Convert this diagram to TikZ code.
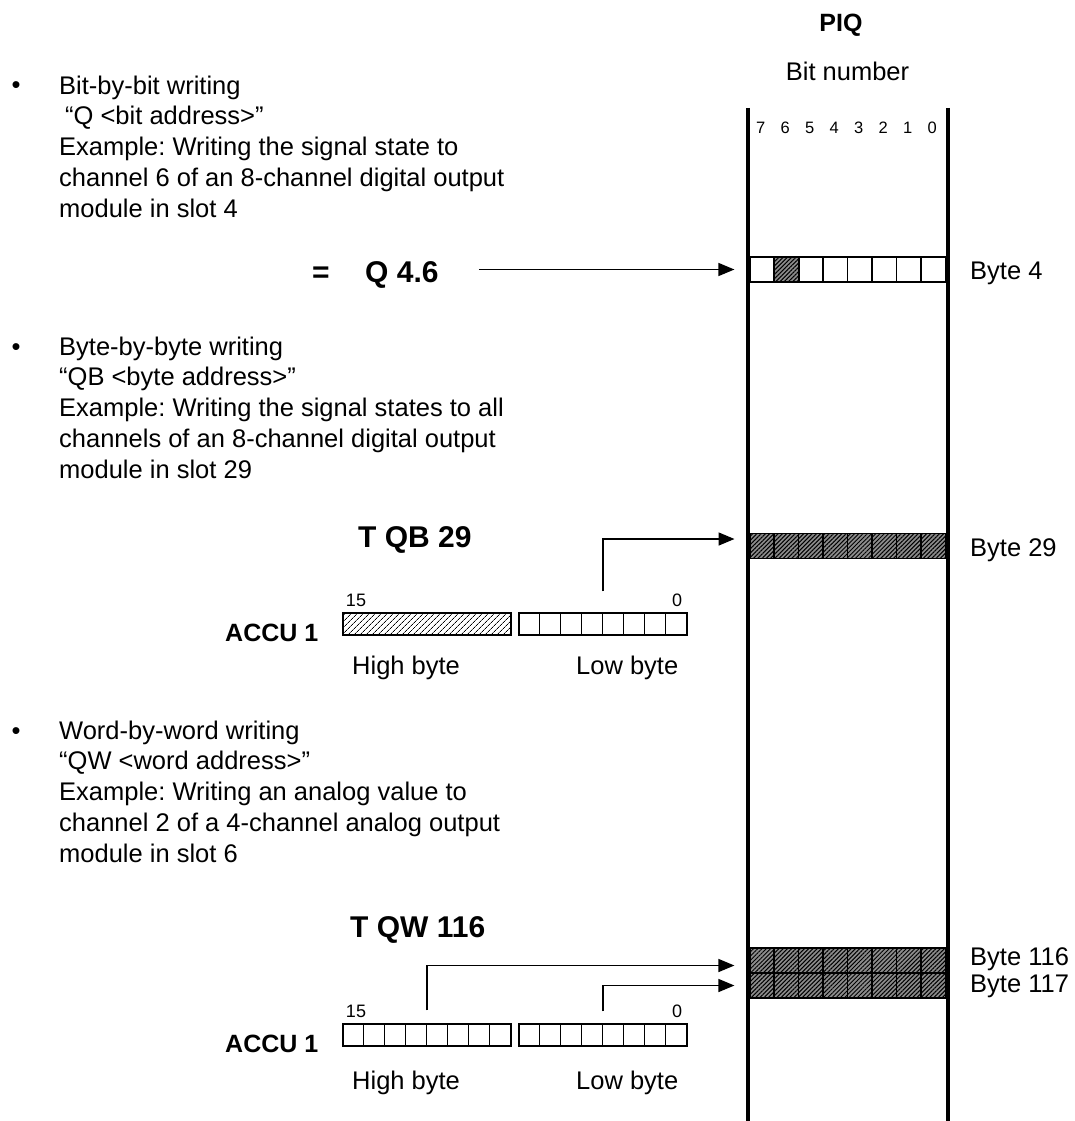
\documentclass[tikz,border=0pt]{standalone}
\usepackage{fontspec}
\setmainfont{Liberation Sans}
\usetikzlibrary{arrows.meta,positioning,patterns.meta}
\frenchspacing

\begin{document}
\begin{tikzpicture}[
		x=1pt, y=-1pt,
		body/.style={
			anchor=base west,
			align=left,
			inner sep=0pt,
			font=\fontsize{25.5}{30.75}\selectfont
		},
		plain/.style={
			anchor=base,
			inner sep=0pt,
			font=\fontsize{25.5}{30.75}\selectfont
		},
		cmd/.style={
			anchor=base west,
			inner sep=0pt,
			font=\fontsize{30}{36}\selectfont\bfseries
		},
		accu/.style={
			anchor=base west,
			inner sep=0pt,
			font=\fontsize{25}{30}\selectfont\bfseries
		},
		bitno/.style={
			anchor=base,
			inner sep=0pt,
			font=\fontsize{16.5}{20}\selectfont
		},
		endbit/.style={
			anchor=base,
			inner sep=0pt,
			font=\fontsize{18}{22}\selectfont
		},
		byterow/.style={
			draw,
			line width=1.2pt,
			minimum width=196pt,
			minimum height=25pt,
			inner sep=0pt
		},
		accubyte/.style={
			draw,
			line width=1.2pt,
			minimum width=168pt,
			minimum height=22pt,
			inner sep=0pt
		},
		dense/.style={
			preaction={fill=black!45},
			pattern={Lines[angle=45,distance=3pt,line width=1pt]}
		},
		sparse/.style={
			pattern={Lines[angle=45,distance=4pt,line width=.8pt]}
		},
		divider/.style={line width=1.2pt},
		wall/.style={line width=4pt},
		arrow/.style={
			-{Triangle[length=16pt,width=13pt]},
			line width=1.5pt,
			shorten >=15pt
		}
		]
		
		\useasboundingbox (0,0) rectangle (1074,1121);
		
		% process image of outputs
		\node[accu, anchor=base] (piq) at (841,32) {PIQ};
		\node[plain] (bitnum) at (847.5,81) {Bit number};
		\draw[wall] (748,108) -- (748,1121);
		\draw[wall] (948,108) -- (948,1121);
		\foreach \b [count=\i from 0] in {7,...,0}
		\node[bitno] (bit\b) at ({760.75+24.5*\i},133) {\b};
		
		\node[byterow] (byte4) at (848,269.5) {};
		\node[byterow, dense] (byte29) at (848,546) {};
		\node[byterow, dense] (byte116) at (848,960.5) {};
		\node[byterow, dense] (byte117) at (848,985.5) {};
		\node[draw, dense, line width=1.2pt, minimum width=24.5pt,
		minimum height=25pt, inner sep=0pt] (bit46) at (786.75,269.5) {};
		\foreach \r in {byte4,byte29,byte116,byte117}
		\foreach \i in {1,...,7}
		\draw[divider] ([xshift=\i*24.5pt]\r.south west)
		-- ([xshift=\i*24.5pt]\r.north west);
		
		\node[body] (lbl4) at (970,279) {Byte 4};
		\node[body] (lbl29) at (970,556) {Byte 29};
		\node[body] (lbl116) at (970,965) {Byte 116};
		\node[body] (lbl117) at (970,992) {Byte 117};
		
		% bit-by-bit (base = last line)
		\node[plain] (dot1) at (16,94) {\textbullet};
		\node[body] (txt1) at (59,217)
		{Bit-by-bit writing\\
			\hspace{6pt}“Q <bit address>”\\
			Example: Writing the signal state to\\
			channel 6 of an 8-channel digital output\\
			module in slot 4};
		\node[cmd] (q46) at (312,282) {=\hspace{35.5pt}Q 4.6};
		\coordinate[right=40pt of q46.east] (q46out);
		\draw[arrow] (q46out |- byte4.west) -- (byte4.west);
		
		% byte-by-byte
		\node[plain] (dot2) at (16,355) {\textbullet};
		\node[body] (txt2) at (59,478)
		{Byte-by-byte writing\\
			“QB <byte address>”\\
			Example: Writing the signal states to all\\
			channels of an 8-channel digital output\\
			module in slot 29};
		\node[cmd] (tqb) at (358,547) {T QB 29};
		
		\node[accubyte, sparse] (hiA) at (427,624) {};
		\node[accubyte] (loA) at (603,624) {};
		\foreach \i in {1,...,7}
		\draw[divider] ([xshift=\i*21pt]loA.south west)
		-- ([xshift=\i*21pt]loA.north west);
		\node[accu] (accuA) at (225,641) {ACCU 1};
		\node[endbit] (msbA) at (356,606) {15};
		\node[endbit] (lsbA) at (677,606) {0};
		\node[body] (highA) at (352,674) {High byte};
		\node[body] (lowA) at (576,674) {Low byte};
		
		\coordinate[above=21pt of loA.north] (stubA);
		\draw[arrow] (stubA) |- ([yshift=7pt]byte29.west);
		
		% word-by-word
		\node[plain] (dot3) at (16,739) {\textbullet};
		\node[body] (txt3) at (59,862)
		{Word-by-word writing\\
			“QW <word address>”\\
			Example: Writing an analog value to\\
			channel 2 of a 4-channel analog output\\
			module in slot 6};
		\node[cmd] (tqw) at (350,937) {T QW 116};
		
		\node[accubyte] (hiB) at (427,1035) {};
		\node[accubyte] (loB) at (603,1035) {};
		\foreach \r in {hiB,loB}
		\foreach \i in {1,...,7}
		\draw[divider] ([xshift=\i*21pt]\r.south west)
		-- ([xshift=\i*21pt]\r.north west);
		\node[accu] (accuB) at (225,1052) {ACCU 1};
		\node[endbit] (msbB) at (356,1017) {15};
		\node[endbit] (lsbB) at (677,1017) {0};
		\node[body] (highB) at (352,1089) {High byte};
		\node[body] (lowB) at (576,1089) {Low byte};
		
		\coordinate[above=13pt of hiB.north] (stubhi);
		\coordinate[above=12pt of loB.north] (stublo);
		\draw[arrow] (stubhi) |- ([yshift=-5pt]byte116.west);
		\draw[arrow] (stublo) |- (byte117.west);
		
	\end{tikzpicture}
\end{document}
